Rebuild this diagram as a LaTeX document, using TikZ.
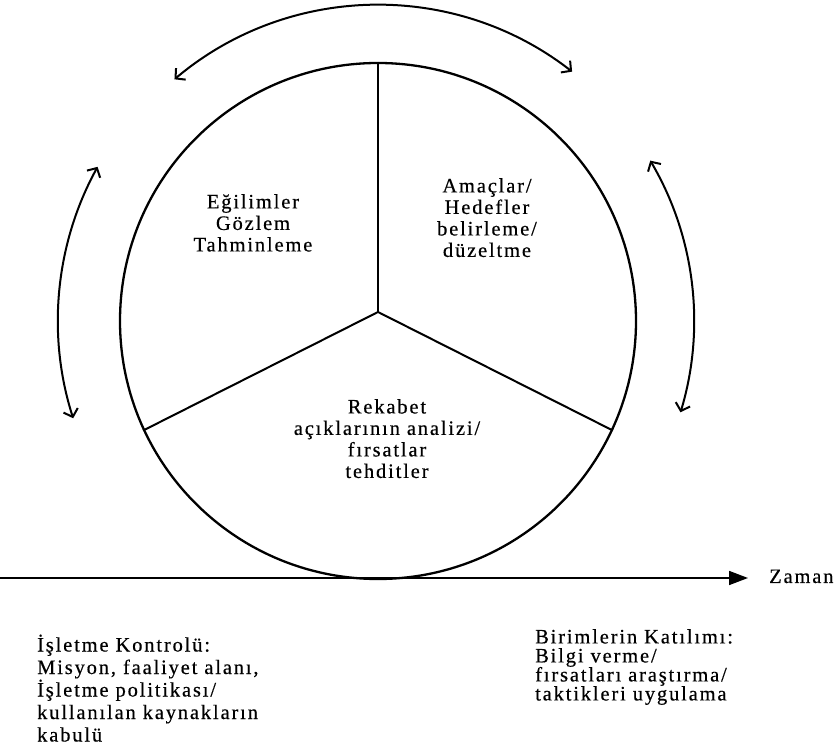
\documentclass[tikz,border=0pt]{standalone}
\usepackage{fontspec}
\setmainfont{Liberation Serif}[LetterSpace=9.0, FakeBold=0.4]
\usetikzlibrary{arrows.meta}

\tikzset{
  wheelline/.style={line width=2.3pt, black},
  spoke/.style={line width=2pt, black},
  cyclearrow/.style={line width=2pt, black, line cap=round,
    {Straight Barb[length=7pt,width=15pt,line width=2pt]}-{Straight Barb[length=7pt,width=15pt,line width=2pt]}},
  timeaxis/.style={line width=1.7pt, black, -{Triangle[length=19pt,width=14pt]}},
  lbl/.style={inner sep=0pt, font=\fontsize{20.5}{21.5}\selectfont},
  sidelbl/.style={inner sep=0pt, align=left, anchor=north west},
}

\begin{document}
\begin{tikzpicture}[x=1pt, y=1pt]
  \useasboundingbox (0,0) rectangle (836,753);
  \fill[white] (0,0) rectangle (836,753);

  % the planning wheel
  \node[circle, draw, wheelline, minimum size=516pt, inner sep=0pt] (wheel) at (378,432) {};
  \coordinate (hub) at (378,441);
  \draw[spoke] (wheel.north) -- (hub);
  \draw[spoke] (hub) -- (wheel.205.3);
  \draw[spoke] (hub) -- (wheel.335.0);

  % double-headed arcs around the wheel
  \draw[cyclearrow] ([shift={(130.1:316)}]wheel.center) arc[start angle=130.1, end angle=52.1, radius=316];
  \draw[cyclearrow] ([shift={(151.2:320)}]wheel.center) arc[start angle=151.2, end angle=197.7, radius=320];
  \draw[cyclearrow] ([shift={(30.5:316)}]wheel.center) arc[start angle=30.5, end angle=-16.8, radius=316];

  % time axis
  \coordinate (axstart) at (0,175);
  \coordinate (axend) at (748,175);
  \draw[timeaxis] (axstart) -- (axend);
  \node[lbl, anchor=base west] (zaman) at (769,170) {Zaman};

  % sector texts
  \node[lbl, align=center, anchor=north] (trend) at (253,559)
    {Eğilimler\\Gözlem\\Tahminleme};
  \node[lbl, align=center, anchor=north] (goals) at (487,575)
    {Amaçlar/\\Hedefler\\belirleme/\\düzeltme};
  \node[lbl, align=center, anchor=north] (gaps) at (387,354)
    {Rekabet\\açıklarının analizi/\\fırsatlar\\tehditler};

  % notes below the axis
  \node[sidelbl, font=\fontsize{20.5}{22.5}\selectfont] (control) at (37,118.6)
    {İşletme Kontrolü:\\Misyon, faaliyet alanı,\\İşletme politikası/\\kullanılan kaynakların\\kabulü};
  \node[sidelbl, font=\fontsize{20.5}{19}\selectfont] (units) at (535,124)
    {Birimlerin Katılımı:\\Bilgi verme/\\fırsatları araştırma/\\taktikleri uygulama};
\end{tikzpicture}
\end{document}
